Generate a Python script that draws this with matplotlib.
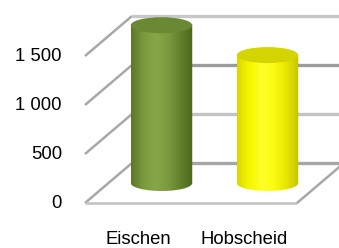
import numpy as np
import matplotlib
matplotlib.use("Agg")
import matplotlib.pyplot as plt
from matplotlib.patches import Ellipse, Polygon
from matplotlib.colors import LinearSegmentedColormap

categories = ["Eischen", "Hobscheid"]
values = [1610, 1305]
tick_values = [0, 500, 1000, 1500]
tick_labels = ["0", "500", "1 000", "1 500"]

body_colors = [
    ["#5c7828", "#7a9a3e", "#86a648", "#7b9a40", "#62802c", "#4c661c"],
    ["#d8d800", "#f6f600", "#ffff28", "#fbfb10", "#e6e600", "#c4c400"],
]
top_colors = ["#6b8834", "#d4d400"]

plt.rcParams['font.family'] = ['Liberation Sans', 'DejaVu Sans']

W, H = 339, 248
fig = plt.figure(figsize=(W / 100, H / 100), dpi=100)
ax = fig.add_axes([0, 0, 1, 1])

# pixel scale of the pseudo-3D frame
px_per_cat = 106.0
px_per_val = 0.098
x0_px, y0_px = 85.0, 203.0
ax.set_xlim((0 - x0_px) / px_per_cat - 0.5, (W - x0_px) / px_per_cat - 0.5)
ax.set_ylim((y0_px - H) / px_per_val, y0_px / px_per_val)
ax.axis("off")

dx = 47 / px_per_cat      # depth offset in category units
dy = 40 / px_per_val      # depth offset in value units
n = len(categories)
xl, xr = -0.5, n - 0.5
xend = (W - x0_px) / px_per_cat - 0.5 + 0.2

# back wall gridlines
grid_cols = ["#a6a6a6", "#c4c4c4", "#9c9c9c", "#c8c8c8"]
for v, c in zip(tick_values, grid_cols):
    ax.plot([xl + dx, xend], [v + dy, v + dy], color=c, lw=2.4,
            solid_capstyle="butt", zorder=1)

# side wall diagonals
for v in tick_values:
    ax.plot([xl, xl + dx], [v, v + dy], color="#a8a8a8", lw=1.8,
            zorder=2, solid_capstyle="butt")

# floor edges
ax.plot([xl, xr], [0, 0], color="#c0c0c0", lw=1.8, zorder=2,
        solid_capstyle="butt")
ax.plot([xr, xr + dx], [0, dy], color="#a8a8a8", lw=1.8, zorder=2,
        solid_capstyle="butt")

# cylinders
bw = 0.58
eh = 8 / px_per_val  # half-height of ellipse in value units
for i, (cat, val) in enumerate(zip(categories, values)):
    cx = i + dx / 2
    base = dy / 2
    top = base + val
    left, right = cx - bw / 2, cx + bw / 2
    t = np.linspace(np.pi, 2 * np.pi, 60)
    bottom_pts = np.column_stack([cx + bw / 2 * np.cos(t), base + eh * np.sin(t)])
    pts = np.vstack([bottom_pts, [[right, top], [left, top]]])
    poly = Polygon(pts, closed=True, facecolor="none", edgecolor="none")
    ax.add_patch(poly)
    cmap = LinearSegmentedColormap.from_list("c%d" % i, body_colors[i])
    grad = np.linspace(0, 1, 200).reshape(1, -1)
    im = ax.imshow(grad, cmap=cmap, aspect="auto",
                   extent=[left, right, base - eh, top], zorder=3,
                   interpolation="bilinear")
    im.set_clip_path(poly)
    top_e = Ellipse((cx, top), bw, 2 * eh, facecolor=top_colors[i],
                    edgecolor="none", zorder=4)
    ax.add_patch(top_e)
    ax.text(i, -372, cat, ha="center", va="center", fontsize=13.3,
            color="#000000")

# value labels
for v, lab in zip(tick_values, tick_labels):
    ax.text(xl - 23 / px_per_cat, v, lab, ha="right", va="center",
            fontsize=13.3, color="#000000")

fig.savefig("out.png", dpi=100)
